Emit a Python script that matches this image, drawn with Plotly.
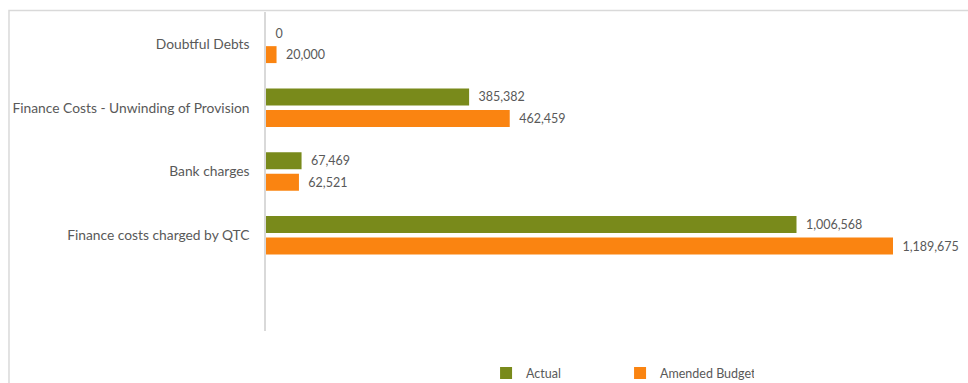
import plotly.graph_objects as go

# Finance cost line items, top to bottom; the trailing blank slot keeps the empty band below
categories = ["Doubtful Debts", "Finance Costs - Unwinding of Provision", "Bank charges",
              "Finance costs charged by QTC", ""]
actual = [0, 385382, 67469, 1006568]
amended_budget = [20000, 462459, 62521, 1189675]

series_names = ["Actual", "Amended Budget"]
series_colors = ["#798a1b", "#fa8411"]

FONT = "Lato, 'Open Sans', sans-serif"
TEXT_GREY = "#595959"

positions = list(range(len(categories)))

fig = go.Figure()
for name, values, color in zip(series_names, [actual, amended_budget], series_colors):
    fig.add_trace(go.Bar(
        name=name,
        orientation="h",
        x=values,
        y=positions[:len(values)],
        marker=dict(color=color, line=dict(width=0)),
        texttemplate="\u00a0\u00a0%{x:,}",
        textposition="outside",
        textfont=dict(family=FONT, size=12.5, color=TEXT_GREY),
        cliponaxis=False,
        hoverinfo="skip",
    ))

# light outer frame around the chart
fig.add_shape(type="rect", xref="paper", yref="paper",
              x0=-0.3714, x1=1.2, y0=-0.5, y1=1.005,
              line=dict(color="#d9d9d9", width=1.5), fillcolor="rgba(0,0,0,0)", layer="below")

fig.update_layout(
    width=968, height=383,
    margin=dict(l=266, r=10, t=11.5, b=51.5, autoexpand=False),
    paper_bgcolor="white", plot_bgcolor="white",
    barmode="group",
    bargap=0.328,
    bargroupgap=0.21,
    font=dict(family=FONT, color=TEXT_GREY, size=12),
    showlegend=True,
    legend=dict(
        orientation="h",
        x=0.318, xanchor="left",
        y=-0.133, yanchor="middle",
        entrywidth=89, entrywidthmode="pixels",
        font=dict(family=FONT, size=12.5, color=TEXT_GREY),
        bgcolor="rgba(0,0,0,0)",
        itemclick=False, itemdoubleclick=False,
    ),
    xaxis=dict(
        range=[0, 1313000],
        showgrid=False, zeroline=False, showline=False,
        showticklabels=False, ticks="",
        fixedrange=True,
    ),
    yaxis=dict(
        range=[len(categories) - 0.5, -0.5],
        tickmode="array",
        tickvals=positions,
        ticktext=categories,
        showgrid=False, zeroline=False,
        showline=True, linecolor="#d9d9d9", linewidth=1.5,
        ticks="", ticklabelstandoff=12,
        tickfont=dict(family=FONT, size=13.8, color=TEXT_GREY),
        fixedrange=True,
    ),
)

fig.write_html("out.html")
